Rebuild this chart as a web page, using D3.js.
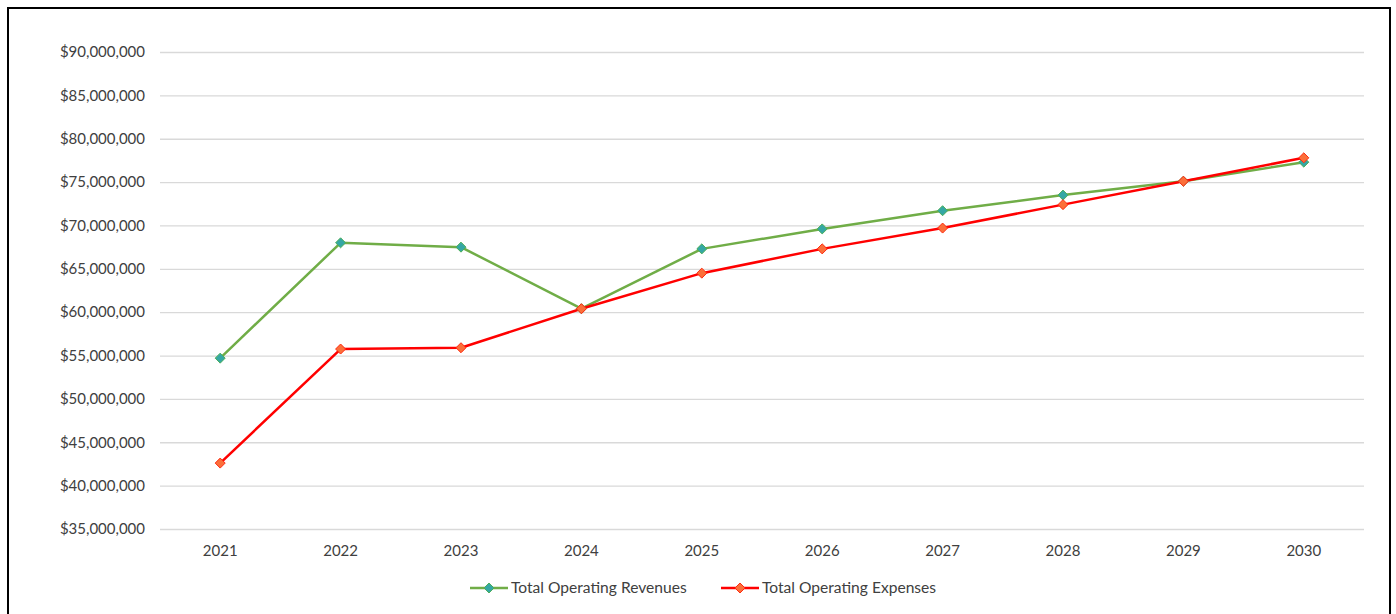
<!DOCTYPE html>
<html><head><meta charset="utf-8">
<script src="https://cdn.jsdelivr.net/npm/d3@7/dist/d3.min.js"></script>
<style>html,body{margin:0;padding:0;background:#fff;}svg{display:block;font-family:Lato,"Open Sans",sans-serif;}</style>
</head><body>
<script>
const years = ["2021","2022","2023","2024","2025","2026","2027","2028","2029","2030"];
const revenues = [54.7e6, 68.0e6, 67.5e6, 60.4e6, 67.3e6, 69.6e6, 71.7e6, 73.5e6, 75.1e6, 77.3e6];
const expenses = [42.6e6, 55.75e6, 55.9e6, 60.4e6, 64.5e6, 67.3e6, 69.7e6, 72.4e6, 75.1e6, 77.8e6];
const yTicks = [35e6,40e6,45e6,50e6,55e6,60e6,65e6,70e6,75e6,80e6,85e6,90e6];
const seriesNames = ["Total Operating Revenues","Total Operating Expenses"];

(function(){
const W=1396,H=614;
const svg=d3.select("body").append("svg").attr("width",W).attr("height",H);
svg.append("rect").attr("x",8).attr("y",8).attr("width",1382).attr("height",620).attr("fill","#fff").attr("stroke","#000").attr("stroke-width",2);

const pL=160,pR=1364,pT=52,pB=529;
const x=d3.scaleBand().domain(years).range([pL,pR]);
const y=d3.scaleLinear().domain([35e6,90e6]).range([pB,pT]);

const fmt=v=>"$"+d3.format(",")(v);
const ya=svg.append("g").attr("transform",`translate(${pL},0)`)
 .call(d3.axisLeft(y).tickValues(yTicks).tickFormat(fmt).tickSize(-(pR-pL)).tickPadding(15));
ya.select(".domain").remove();
ya.selectAll(".tick line").attr("stroke","#d9d9d9").attr("stroke-width",1.3);
ya.selectAll(".tick text").attr("font-size",15).attr("fill","#404040").attr("font-family","Lato,'Open Sans',sans-serif");

const xa=svg.append("g").attr("transform",`translate(0,${pB})`)
 .call(d3.axisBottom(x).tickSize(0).tickPadding(16));
xa.select(".domain").remove();
xa.selectAll(".tick text").attr("font-size",15).attr("fill","#404040").attr("font-family","Lato,'Open Sans',sans-serif");

const cx=d=>x(d)+x.bandwidth()/2;
const series=[
 {name:seriesNames[0],vals:revenues,line:"#70ad47",fill:"#35a7a4",mstroke:"#4caf5a"},
 {name:seriesNames[1],vals:expenses,line:"#ff0000",fill:"#fb6f3a",mstroke:"#ff2a10"}
];
const diamond=d3.symbol().type(d3.symbolDiamond2).size(64);
series.forEach(s=>{
  const line=d3.line().x((d,i)=>cx(years[i])).y(d=>y(d));
  svg.append("path").datum(s.vals).attr("d",line).attr("fill","none").attr("stroke",s.line).attr("stroke-width",2.5).attr("stroke-linejoin","round");
});
series.forEach(s=>{
  svg.append("g").selectAll("path").data(s.vals).join("path")
   .attr("d",diamond).attr("transform",(d,i)=>`translate(${cx(years[i])},${y(d)})`)
   .attr("fill",s.fill).attr("stroke",s.mstroke).attr("stroke-width",1);
});

const lx=[470,721];
series.forEach((s,i)=>{
  const g=svg.append("g").attr("transform",`translate(${lx[i]},588)`);
  g.append("line").attr("x1",0).attr("x2",38).attr("stroke",s.line).attr("stroke-width",2.5);
  g.append("path").attr("d",diamond).attr("transform","translate(19,0)").attr("fill",s.fill).attr("stroke",s.mstroke).attr("stroke-width",1);
  g.append("text").attr("x",41).attr("y",0).attr("dy","0.35em").attr("font-size",15.6).attr("fill","#404040").text(s.name);
});
})();
</script>
</body></html>
